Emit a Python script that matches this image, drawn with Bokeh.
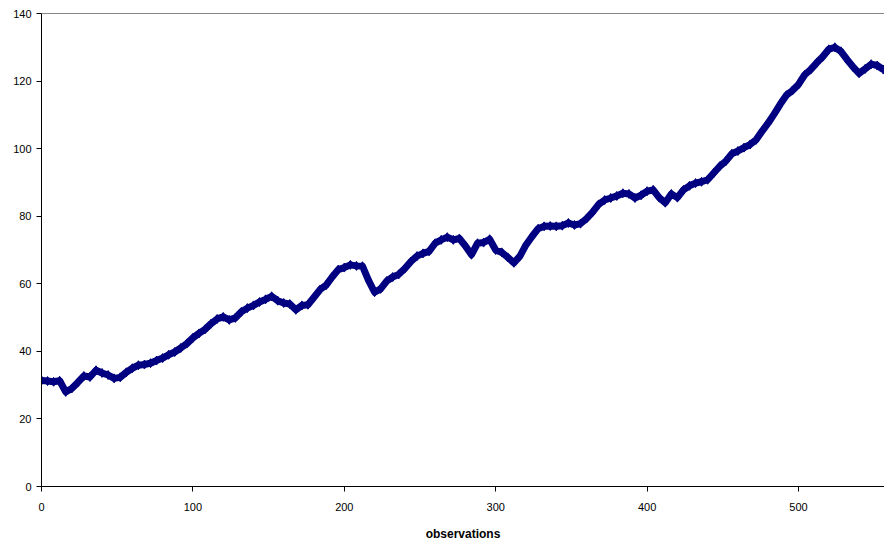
from bokeh.plotting import figure
from bokeh.models import FixedTicker, Span, Range1d
from bokeh.embed import file_html
from bokeh.resources import INLINE

observations = list(range(0, 557, 4))
values = [
    31.4, 31.2, 31.0, 31.3, 28.0, 29.0, 30.8, 32.7, 32.4, 34.4,
    33.6, 33.0, 32.0, 32.3, 33.8, 35.0, 35.9, 36.1, 36.5, 37.3,
    38.0, 39.0, 39.8, 41.0, 42.3, 44.0, 45.3, 46.5, 48.2, 49.6,
    50.2, 49.3, 49.9, 51.7, 52.8, 53.6, 54.6, 55.4, 56.3, 55.0,
    54.3, 54.0, 52.3, 53.6, 53.8, 56.0, 58.3, 59.6, 62.0, 64.2,
    64.8, 65.6, 65.3, 65.2, 61.0, 57.5, 58.5, 60.8, 62.0, 62.8,
    64.5, 66.6, 68.2, 69.0, 69.6, 72.0, 73.0, 73.8, 73.0, 73.4,
    71.2, 68.6, 72.0, 72.2, 73.2, 70.0, 69.3, 67.8, 66.2, 68.2,
    71.5, 74.0, 76.3, 77.0, 77.1, 77.0, 77.2, 78.0, 77.4, 77.8,
    79.3, 81.2, 83.5, 84.8, 85.4, 86.0, 86.8, 86.6, 85.4, 86.2,
    87.4, 87.8, 85.5, 84.0, 86.6, 85.5, 87.8, 89.0, 89.8, 90.2,
    90.8, 92.8, 94.8, 96.3, 98.5, 99.3, 100.3, 101.2, 102.6, 105.2,
    107.6, 110.3, 113.2, 115.8, 117.2, 119.0, 121.8, 123.4, 125.4, 127.2,
    129.4, 130.0, 128.8, 126.4, 124.2, 122.3, 123.6, 125.0, 124.6, 123.4,
]
x_ticks = [0, 100, 200, 300, 400, 500]
y_ticks = [0, 20, 40, 60, 80, 100, 120, 140]
x_label = "observations"

W, H = 884, 547
p = figure(width=W, height=H, output_backend="svg", toolbar_location=None,
           x_range=Range1d(0, 556.8), y_range=Range1d(0, 140),
           min_border_left=41, min_border_top=13, min_border_right=0, min_border_bottom=61)
p.outline_line_color = None
p.grid.visible = False
p.background_fill_color = "white"
p.border_fill_color = "white"

p.line(observations, values, line_color="#000080", line_width=7, line_join="round")
p.scatter(observations, values, marker="diamond", size=9, fill_color="#000080", line_color="#000080")

p.add_layout(Span(location=140, dimension="width", line_color="#111111", line_width=1))

for ax in (p.xaxis[0], p.yaxis[0]):
    ax.axis_line_color = "black"
    ax.major_tick_line_color = "black"
    ax.minor_tick_line_color = None
    ax.major_tick_in = 0
    ax.major_tick_out = 5
    ax.major_label_text_font = "Liberation Sans"
    ax.major_label_text_font_size = "11px"
    ax.major_label_text_color = "black"

p.xaxis[0].ticker = FixedTicker(ticks=x_ticks)
p.yaxis[0].ticker = FixedTicker(ticks=y_ticks)
p.xaxis[0].major_label_standoff = 11
p.yaxis[0].major_label_standoff = 5
p.xaxis[0].axis_label = x_label
p.xaxis[0].axis_label_text_font = "Liberation Sans"
p.xaxis[0].axis_label_text_font_style = "bold"
p.xaxis[0].axis_label_text_font_size = "12px"
p.xaxis[0].axis_label_text_color = "black"
p.xaxis[0].axis_label_standoff = 13

open("out.html", "w").write(file_html(p, INLINE))
